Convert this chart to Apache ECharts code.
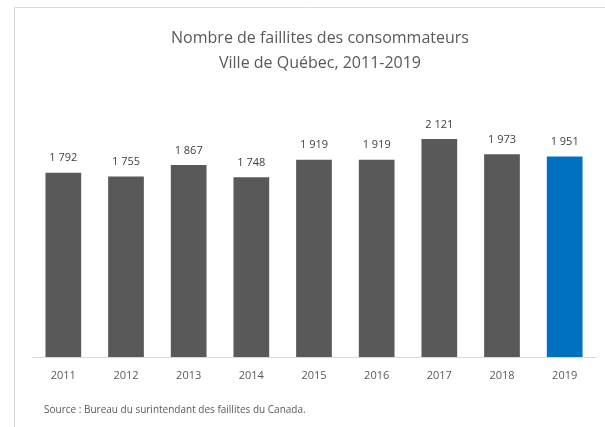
<!DOCTYPE html>
<html>
<head>
    <meta charset="utf-8">
    <title>Faillites des consommateurs</title>
    <script src="https://cdn.jsdelivr.net/npm/echarts@6/dist/echarts.min.js" type="text/javascript" charset="utf-8"></script>
    <style>
        body { margin: 0; background: #fff; }
    </style>
</head>
<body>
<div id="div01" style="width: 605px;height: 427px;"></div>
</body>
<script type="text/javascript">

    // données
    var annees = ['2011', '2012', '2013', '2014', '2015', '2016', '2017', '2018', '2019'];
    var faillites = [1792, 1755, 1867, 1748, 1919, 1919, 2121, 1973, 1951];

    var police = '"Open Sans", "Noto Sans", sans-serif';

    function espaceMilliers(v) {
        return String(v).replace(/\B(?=(\d{3})+(?!\d))/g, ' ');
    }

    var myChart = echarts.init(document.getElementById("div01"));

    myChart.setOption({
        animation: false,
        title: {
            text: 'Nombre de faillites des consommateurs\nVille de Québec, 2011-2019',
            left: 315,
            textAlign: 'center',
            top: 21,
            textStyle: {
                fontFamily: police,
                fontSize: 16,
                fontWeight: 'normal',
                color: '#595959',
                lineHeight: 25
            }
        },
        graphic: [{
            type: 'rect',
            shape: { x: 14.5, y: 7.5, width: 600, height: 430 },
            style: { fill: 'none', stroke: '#d9d9d9', lineWidth: 1 },
            silent: true
        }, {
            type: 'text',
            left: 44,
            top: 405,
            style: {
                text: 'Source : Bureau du surintendant des faillites du Canada.',
                fontFamily: police,
                fontSize: 10,
                fill: '#595959'
            }
        }],
        grid: {
            left: 32,
            right: 9,
            top: 100,
            bottom: 70
        },
        xAxis: {
            type: 'category',
            data: annees,
            axisLine: { lineStyle: { color: '#d9d9d9' } },
            axisTick: { show: false },
            axisLabel: {
                color: '#595959',
                fontFamily: police,
                fontSize: 11,
                margin: 13
            }
        },
        yAxis: {
            type: 'value',
            min: 0,
            max: 2500,
            show: false,
            splitLine: { show: false }
        },
        series: [{
            name: 'Faillites',
            type: 'bar',
            barCategoryGap: '43%',
            data: faillites.map(function (v, i) {
                return {
                    value: v,
                    itemStyle: { color: i === faillites.length - 1 ? '#0070c0' : '#595959' }
                };
            }),
            label: {
                show: true,
                position: 'top',
                distance: 9,
                color: '#404040',
                fontFamily: police,
                fontSize: 11,
                formatter: function (p) { return espaceMilliers(p.value); }
            }
        }]
    });
</script>
</html>
